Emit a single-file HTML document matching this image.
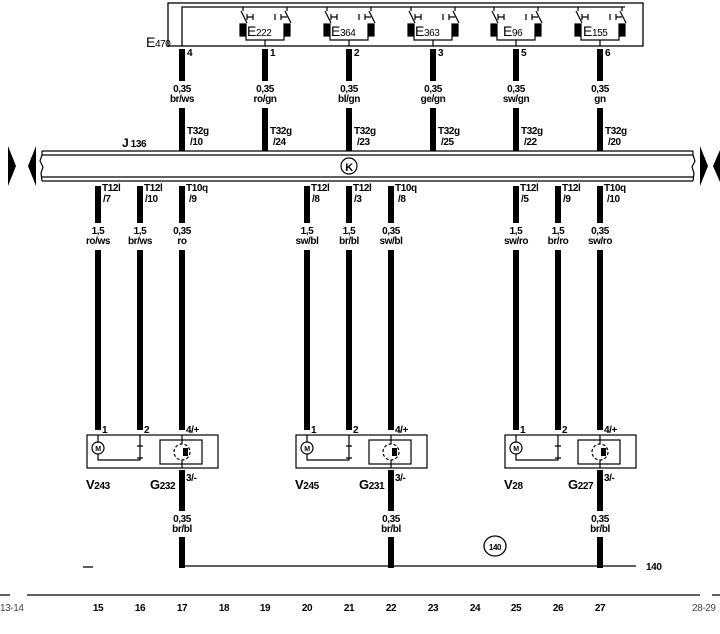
<!DOCTYPE html>
<html><head><meta charset="utf-8"><style>
html,body{margin:0;padding:0;background:#fff}
svg{display:block}
text{font-family:"Liberation Sans",sans-serif;font-weight:bold;font-size:10px;fill:#000;letter-spacing:-0.4px}
.c{text-anchor:middle}
.g{font-weight:normal;fill:#444}
</style></head><body>
<svg width="720" height="634" viewBox="0 0 720 634" xmlns="http://www.w3.org/2000/svg">
<g stroke="#000" fill="none" stroke-width="1.3">
<rect x="168" y="3" width="475" height="43"/>
<polyline points="182,46 182,7 625,7"/>
</g>
<g stroke="#000" stroke-width="1.2" fill="none">
<g transform="translate(265,0)"><path d="M-22,7v4M22,7v4M-24,11l6,12M20,11l6,12M-18,14v6M-18,17h6M-12,14v6M16,14v6M16,17h6M10,14v6M-19,36v4h38v-4M0,40v6"/><rect x="-25" y="24" width="6" height="12" fill="#000"/><rect x="19" y="24" width="6" height="12" fill="#000"/></g>
<g transform="translate(349,0)"><path d="M-22,7v4M22,7v4M-24,11l6,12M20,11l6,12M-18,14v6M-18,17h6M-12,14v6M16,14v6M16,17h6M10,14v6M-19,36v4h38v-4M0,40v6"/><rect x="-25" y="24" width="6" height="12" fill="#000"/><rect x="19" y="24" width="6" height="12" fill="#000"/></g>
<g transform="translate(433,0)"><path d="M-22,7v4M22,7v4M-24,11l6,12M20,11l6,12M-18,14v6M-18,17h6M-12,14v6M16,14v6M16,17h6M10,14v6M-19,36v4h38v-4M0,40v6"/><rect x="-25" y="24" width="6" height="12" fill="#000"/><rect x="19" y="24" width="6" height="12" fill="#000"/></g>
<g transform="translate(516,0)"><path d="M-22,7v4M22,7v4M-24,11l6,12M20,11l6,12M-18,14v6M-18,17h6M-12,14v6M16,14v6M16,17h6M10,14v6M-19,36v4h38v-4M0,40v6"/><rect x="-25" y="24" width="6" height="12" fill="#000"/><rect x="19" y="24" width="6" height="12" fill="#000"/></g>
<g transform="translate(600,0)"><path d="M-22,7v4M22,7v4M-24,11l6,12M20,11l6,12M-18,14v6M-18,17h6M-12,14v6M16,14v6M16,17h6M10,14v6M-19,36v4h38v-4M0,40v6"/><rect x="-25" y="24" width="6" height="12" fill="#000"/><rect x="19" y="24" width="6" height="12" fill="#000"/></g>
</g>
<text x="247" y="36" style="font-size:14px;font-weight:normal">E<tspan style="font-size:10px">222</tspan></text>
<text x="331" y="36" style="font-size:14px;font-weight:normal">E<tspan style="font-size:10px">364</tspan></text>
<text x="415" y="36" style="font-size:14px;font-weight:normal">E<tspan style="font-size:10px">363</tspan></text>
<text x="503" y="36" style="font-size:14px;font-weight:normal">E<tspan style="font-size:10px">96</tspan></text>
<text x="583" y="36" style="font-size:14px;font-weight:normal">E<tspan style="font-size:10px">155</tspan></text>
<text x="146" y="47" style="font-size:14px;font-weight:normal">E<tspan style="font-size:10px">470</tspan></text>

<g fill="#000">
<rect x="179" y="49" width="6" height="32"/><rect x="179" y="108" width="6" height="43"/>
<rect x="262" y="49" width="6" height="32"/><rect x="262" y="108" width="6" height="43"/>
<rect x="346" y="49" width="6" height="32"/><rect x="346" y="108" width="6" height="43"/>
<rect x="430" y="49" width="6" height="32"/><rect x="430" y="108" width="6" height="43"/>
<rect x="513" y="49" width="6" height="32"/><rect x="513" y="108" width="6" height="43"/>
<rect x="597" y="49" width="6" height="32"/><rect x="597" y="108" width="6" height="43"/>
</g>
<g>
<text x="187" y="56">4</text><text x="270" y="56">1</text><text x="354" y="56">2</text><text x="438" y="56">3</text><text x="521" y="56">5</text><text x="605" y="56">6</text>
<text class="c" x="182" y="92">0,35</text><text class="c" x="182" y="102">br/ws</text>
<text class="c" x="265" y="92">0,35</text><text class="c" x="265" y="102">ro/gn</text>
<text class="c" x="349" y="92">0,35</text><text class="c" x="349" y="102">bl/gn</text>
<text class="c" x="433" y="92">0,35</text><text class="c" x="433" y="102">ge/gn</text>
<text class="c" x="516" y="92">0,35</text><text class="c" x="516" y="102">sw/gn</text>
<text class="c" x="600" y="92">0,35</text><text class="c" x="600" y="102">gn</text>
<text x="187" y="134">T32g</text><text x="190" y="145">/10</text>
<text x="270" y="134">T32g</text><text x="273" y="145">/24</text>
<text x="354" y="134">T32g</text><text x="357" y="145">/23</text>
<text x="438" y="134">T32g</text><text x="441" y="145">/25</text>
<text x="521" y="134">T32g</text><text x="524" y="145">/22</text>
<text x="605" y="134">T32g</text><text x="608" y="145">/20</text>
</g>
<text x="122" y="147" style="font-size:12px">J<tspan style="font-size:10px"> 136</tspan></text>

<g stroke="#000" stroke-width="1.2" fill="none">
<path d="M42,151H693M42,155H693M42,177H693M42,181H693"/>
<path d="M42,151v4l-2,6l3,6l-2,6l1,8M693,151v4l2,6l-3,6l2,6l-1,8"/>
<circle cx="349" cy="166" r="8"/>
</g>
<text class="c" x="349" y="171" style="font-size:11px">K</text>
<g fill="#000">
<polygon points="8,146 16,166 8,186"/><polygon points="36,146 28,166 36,186"/>
<polygon points="700,146 708,166 700,186"/><polygon points="720,150 713,166 720,182"/>
</g>

<g fill="#000">
<rect x="95" y="186" width="6" height="37"/><rect x="95" y="250" width="6" height="180"/>
<rect x="137" y="186" width="6" height="37"/><rect x="137" y="250" width="6" height="180"/>
<rect x="179" y="186" width="6" height="37"/><rect x="179" y="250" width="6" height="180"/>
<rect x="304" y="186" width="6" height="37"/><rect x="304" y="250" width="6" height="180"/>
<rect x="346" y="186" width="6" height="37"/><rect x="346" y="250" width="6" height="180"/>
<rect x="388" y="186" width="6" height="37"/><rect x="388" y="250" width="6" height="180"/>
<rect x="513" y="186" width="6" height="37"/><rect x="513" y="250" width="6" height="180"/>
<rect x="555" y="186" width="6" height="37"/><rect x="555" y="250" width="6" height="180"/>
<rect x="597" y="186" width="6" height="37"/><rect x="597" y="250" width="6" height="180"/>
</g>
<g>
<text x="102" y="191">T12l</text><text x="103" y="202">/7</text>
<text x="144" y="191">T12l</text><text x="145" y="202">/10</text>
<text x="186" y="191">T10q</text><text x="189" y="202">/9</text>
<text x="311" y="191">T12l</text><text x="312" y="202">/8</text>
<text x="353" y="191">T12l</text><text x="354" y="202">/3</text>
<text x="395" y="191">T10q</text><text x="398" y="202">/8</text>
<text x="520" y="191">T12l</text><text x="521" y="202">/5</text>
<text x="562" y="191">T12l</text><text x="563" y="202">/9</text>
<text x="604" y="191">T10q</text><text x="607" y="202">/10</text>
<text class="c" x="98" y="234">1,5</text><text class="c" x="98" y="244">ro/ws</text>
<text class="c" x="140" y="234">1,5</text><text class="c" x="140" y="244">br/ws</text>
<text class="c" x="182" y="234">0,35</text><text class="c" x="182" y="244">ro</text>
<text class="c" x="307" y="234">1,5</text><text class="c" x="307" y="244">sw/bl</text>
<text class="c" x="349" y="234">1,5</text><text class="c" x="349" y="244">br/bl</text>
<text class="c" x="391" y="234">0,35</text><text class="c" x="391" y="244">sw/bl</text>
<text class="c" x="516" y="234">1,5</text><text class="c" x="516" y="244">sw/ro</text>
<text class="c" x="558" y="234">1,5</text><text class="c" x="558" y="244">br/ro</text>
<text class="c" x="600" y="234">0,35</text><text class="c" x="600" y="244">sw/ro</text>
</g>

<g stroke="#000" stroke-width="1.2" fill="none">
<g>
<rect x="87" y="435" width="131" height="33"/><rect x="160" y="440" width="42" height="24"/>
<path d="M98,435v7M98,454v6h42v-25M137,446h6M137,458h6"/><circle cx="98" cy="448" r="6"/>
<circle cx="182" cy="452" r="8" stroke-dasharray="3,2"/><path d="M182,435v9M182,460v8"/>
</g>
<g transform="translate(209,0)">
<rect x="87" y="435" width="131" height="33"/><rect x="160" y="440" width="42" height="24"/>
<path d="M98,435v7M98,454v6h42v-25M137,446h6M137,458h6"/><circle cx="98" cy="448" r="6"/>
<circle cx="182" cy="452" r="8" stroke-dasharray="3,2"/><path d="M182,435v9M182,460v8"/>
</g>
<g transform="translate(418,0)">
<rect x="87" y="435" width="131" height="33"/><rect x="160" y="440" width="42" height="24"/>
<path d="M98,435v7M98,454v6h42v-25M137,446h6M137,458h6"/><circle cx="98" cy="448" r="6"/>
<circle cx="182" cy="452" r="8" stroke-dasharray="3,2"/><path d="M182,435v9M182,460v8"/>
</g>
</g>
<g fill="#000">
<rect x="183" y="448" width="5" height="8"/><rect x="392" y="448" width="5" height="8"/><rect x="601" y="448" width="5" height="8"/>
</g>
<g class="c">
<text x="98" y="451" style="font-size:7px">M</text><text x="307" y="451" style="font-size:7px">M</text><text x="516" y="451" style="font-size:7px">M</text>
</g>
<g>
<text x="102" y="433">1</text><text x="144" y="433">2</text><text x="186" y="433">4/+</text>
<text x="311" y="433">1</text><text x="353" y="433">2</text><text x="395" y="433">4/+</text>
<text x="520" y="433">1</text><text x="562" y="433">2</text><text x="604" y="433">4/+</text>
<text x="186" y="481">3/-</text><text x="395" y="481">3/-</text><text x="604" y="481">3/-</text>
</g>
<text x="86" y="489" style="font-size:13px">V<tspan style="font-size:10px">243</tspan></text>
<text x="150" y="489" style="font-size:13px">G<tspan style="font-size:10px">232</tspan></text>
<text x="295" y="489" style="font-size:13px">V<tspan style="font-size:10px">245</tspan></text>
<text x="359" y="489" style="font-size:13px">G<tspan style="font-size:10px">231</tspan></text>
<text x="504" y="489" style="font-size:13px">V<tspan style="font-size:10px">28</tspan></text>
<text x="568" y="489" style="font-size:13px">G<tspan style="font-size:10px">227</tspan></text>

<g fill="#000">
<rect x="179" y="470" width="6" height="41"/><rect x="179" y="537" width="6" height="31"/>
<rect x="388" y="470" width="6" height="41"/><rect x="388" y="537" width="6" height="31"/>
<rect x="597" y="470" width="6" height="41"/><rect x="597" y="537" width="6" height="31"/>
</g>
<text class="c" x="182" y="522">0,35</text><text class="c" x="182" y="532">br/bl</text>
<text class="c" x="391" y="522">0,35</text><text class="c" x="391" y="532">br/bl</text>
<text class="c" x="600" y="522">0,35</text><text class="c" x="600" y="532">br/bl</text>
<g stroke="#000" stroke-width="1.3" fill="none">
<path d="M182,566H636M83,567h10"/>
<ellipse cx="495" cy="546" rx="11" ry="10"/>
</g>
<text class="c" x="495" y="550" style="font-size:8px">140</text>
<text x="646" y="570">140</text>

<path d="M0,595H10M27,595H700M712,595H720" stroke="#000" stroke-width="1.3"/>
<g>
<text class="g" x="0" y="611">13-14</text>
<text class="c" x="98" y="611">15</text><text class="c" x="140" y="611">16</text><text class="c" x="182" y="611">17</text>
<text class="c" x="224" y="611">18</text><text class="c" x="265" y="611">19</text><text class="c" x="307" y="611">20</text>
<text class="c" x="349" y="611">21</text><text class="c" x="391" y="611">22</text><text class="c" x="433" y="611">23</text>
<text class="c" x="475" y="611">24</text><text class="c" x="516" y="611">25</text><text class="c" x="558" y="611">26</text>
<text class="c" x="600" y="611">27</text>
<text class="g" x="692" y="611">28-29</text>
</g>
</svg>
</body></html>
